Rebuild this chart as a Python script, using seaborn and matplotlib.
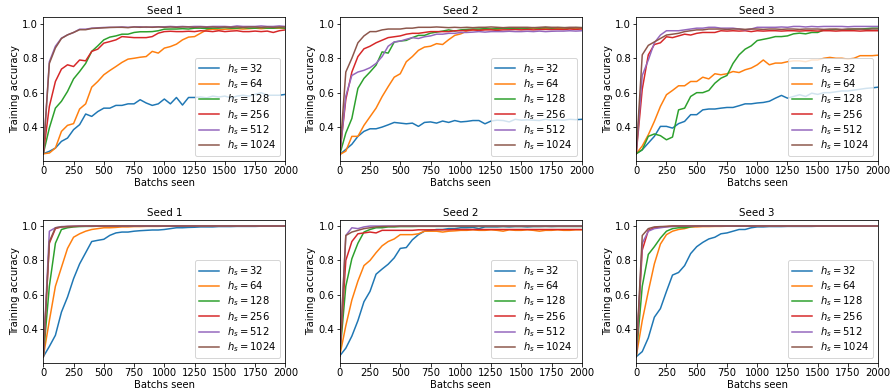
import matplotlib
matplotlib.use("Agg")
import matplotlib.pyplot as plt
import pandas as pd
import seaborn as sns

batches = [0, 50, 100, 150, 200, 250, 300, 350, 400, 450,
           500, 550, 600, 650, 700, 750, 800, 850, 900, 950,
           1000, 1050, 1100, 1150, 1200, 1250, 1300, 1350, 1400, 1450,
           1500, 1550, 1600, 1650, 1700, 1750, 1800, 1850, 1900, 1950,
           2000]

hidden_sizes = [32, 64, 128, 256, 512, 1024]
seed_titles = ["Seed 1", "Seed 2", "Seed 3"]
xlabel = "Batchs seen"
ylabel = "Training accuracy"

# ---------------- Top row ----------------
t1_32 = [0.245, 0.259, 0.278, 0.317, 0.336, 0.385, 0.414, 0.476, 0.462, 0.49,
         0.51, 0.51, 0.526, 0.526, 0.535, 0.535, 0.559, 0.54, 0.526, 0.535,
         0.563, 0.535, 0.572, 0.528, 0.572, 0.572, 0.575, 0.57, 0.58, 0.575,
         0.58, 0.57, 0.58, 0.585, 0.58, 0.59, 0.60, 0.585, 0.585, 0.585,
         0.59]
t1_64 = [0.245, 0.249, 0.278, 0.375, 0.41, 0.42, 0.505, 0.535, 0.632, 0.665,
         0.704, 0.729, 0.752, 0.776, 0.795, 0.80, 0.806, 0.81, 0.84, 0.83,
         0.859, 0.868, 0.882, 0.907, 0.923, 0.926, 0.946, 0.965, 0.969, 0.965,
         0.969, 0.97, 0.972, 0.97, 0.972, 0.975, 0.972, 0.975, 0.975, 0.975,
         0.975]
t1_128 = [0.245, 0.395, 0.51, 0.55, 0.607, 0.68, 0.723, 0.77, 0.84, 0.872,
          0.907, 0.923, 0.93, 0.94, 0.94, 0.95, 0.954, 0.954, 0.955, 0.96,
          0.969, 0.97, 0.97, 0.972, 0.97, 0.975, 0.975, 0.972, 0.975, 0.975,
          0.978, 0.975, 0.975, 0.978, 0.975, 0.975, 0.978, 0.975, 0.975, 0.978,
          0.975]
t1_256 = [0.245, 0.52, 0.665, 0.737, 0.762, 0.752, 0.79, 0.785, 0.84, 0.853,
          0.888, 0.897, 0.907, 0.926, 0.923, 0.92, 0.92, 0.92, 0.926, 0.946,
          0.955, 0.957, 0.955, 0.955, 0.957, 0.955, 0.96, 0.958, 0.955, 0.96,
          0.955, 0.958, 0.96, 0.955, 0.955, 0.958, 0.955, 0.958, 0.95, 0.96,
          0.965]
t1_512 = [0.245, 0.78, 0.87, 0.917, 0.936, 0.95, 0.969, 0.969, 0.975, 0.977,
          0.979, 0.98, 0.98, 0.982, 0.98, 0.982, 0.983, 0.98, 0.982, 0.983,
          0.983, 0.985, 0.983, 0.985, 0.983, 0.985, 0.985, 0.983, 0.985, 0.985,
          0.985, 0.983, 0.988, 0.985, 0.985, 0.985, 0.988, 0.985, 0.985, 0.988,
          0.985]
t1_1024 = [0.245, 0.77, 0.86, 0.915, 0.936, 0.95, 0.966, 0.966, 0.973, 0.975,
           0.977, 0.979, 0.98, 0.98, 0.978, 0.982, 0.98, 0.982, 0.98, 0.982,
           0.98, 0.982, 0.98, 0.982, 0.982, 0.98, 0.982, 0.98, 0.982, 0.98,
           0.982, 0.98, 0.982, 0.98, 0.982, 0.982, 0.98, 0.982, 0.98, 0.982,
           0.982]

t2_32 = [0.24, 0.27, 0.30, 0.346, 0.375, 0.39, 0.39, 0.40, 0.413, 0.427,
         0.423, 0.419, 0.423, 0.404, 0.427, 0.43, 0.423, 0.435, 0.427, 0.438,
         0.43, 0.433, 0.438, 0.438, 0.419, 0.435, 0.44, 0.438, 0.43, 0.445,
         0.44, 0.442, 0.44, 0.438, 0.445, 0.44, 0.442, 0.44, 0.445, 0.443,
         0.445]
t2_64 = [0.24, 0.26, 0.346, 0.346, 0.41, 0.46, 0.51, 0.577, 0.635, 0.69,
         0.71, 0.78, 0.81, 0.846, 0.865, 0.87, 0.885, 0.88, 0.908, 0.933,
         0.942, 0.958, 0.965, 0.965, 0.968, 0.97, 0.968, 0.972, 0.97, 0.972,
         0.97, 0.972, 0.975, 0.972, 0.975, 0.975, 0.972, 0.975, 0.975, 0.975,
         0.975]
t2_128 = [0.24, 0.365, 0.45, 0.625, 0.683, 0.72, 0.76, 0.837, 0.83, 0.894,
          0.90, 0.904, 0.92, 0.933, 0.933, 0.946, 0.952, 0.958, 0.965, 0.958,
          0.965, 0.968, 0.97, 0.97, 0.972, 0.97, 0.972, 0.975, 0.972, 0.975,
          0.975, 0.975, 0.978, 0.975, 0.978, 0.975, 0.978, 0.978, 0.975, 0.978,
          0.978]
t2_256 = [0.24, 0.56, 0.72, 0.81, 0.855, 0.87, 0.89, 0.905, 0.92, 0.925,
          0.93, 0.94, 0.945, 0.945, 0.95, 0.955, 0.955, 0.955, 0.955, 0.96,
          0.96, 0.962, 0.965, 0.962, 0.965, 0.965, 0.962, 0.965, 0.965, 0.967,
          0.965, 0.967, 0.965, 0.967, 0.968, 0.967, 0.968, 0.967, 0.97, 0.968,
          0.97]
t2_512 = [0.24, 0.58, 0.70, 0.72, 0.73, 0.745, 0.77, 0.81, 0.87, 0.895,
          0.90, 0.91, 0.92, 0.915, 0.925, 0.93, 0.94, 0.94, 0.945, 0.945,
          0.95, 0.95, 0.952, 0.955, 0.952, 0.955, 0.955, 0.955, 0.957, 0.955,
          0.955, 0.957, 0.955, 0.958, 0.955, 0.957, 0.958, 0.958, 0.96, 0.958,
          0.96]
t2_1024 = [0.24, 0.72, 0.80, 0.89, 0.93, 0.955, 0.955, 0.965, 0.97, 0.97,
           0.97, 0.975, 0.975, 0.98, 0.98, 0.98, 0.982, 0.98, 0.978, 0.98,
           0.978, 0.98, 0.978, 0.98, 0.98, 0.982, 0.98, 0.978, 0.98, 0.98,
           0.98, 0.98, 0.978, 0.98, 0.982, 0.98, 0.98, 0.978, 0.98, 0.98,
           0.978]

t3_32 = [0.245, 0.268, 0.307, 0.346, 0.404, 0.404, 0.394, 0.42, 0.433, 0.472,
         0.472, 0.50, 0.505, 0.505, 0.51, 0.514, 0.514, 0.524, 0.535, 0.535,
         0.54, 0.543, 0.55, 0.568, 0.584, 0.568, 0.578, 0.588, 0.578, 0.597,
         0.59, 0.60, 0.60, 0.605, 0.61, 0.61, 0.615, 0.62, 0.625, 0.628,
         0.632]
t3_64 = [0.245, 0.29, 0.355, 0.433, 0.52, 0.588, 0.613, 0.64, 0.64, 0.665,
         0.665, 0.69, 0.68, 0.71, 0.704, 0.71, 0.723, 0.717, 0.733, 0.743,
         0.762, 0.79, 0.762, 0.772, 0.772, 0.78, 0.785, 0.785, 0.78, 0.79,
         0.79, 0.80, 0.805, 0.80, 0.80, 0.795, 0.80, 0.815, 0.815, 0.815,
         0.818]
t3_128 = [0.245, 0.268, 0.346, 0.36, 0.35, 0.326, 0.342, 0.50, 0.51, 0.578,
          0.60, 0.60, 0.613, 0.655, 0.684, 0.70, 0.77, 0.82, 0.853, 0.872,
          0.903, 0.91, 0.917, 0.926, 0.926, 0.93, 0.942, 0.946, 0.942, 0.95,
          0.95, 0.965, 0.965, 0.967, 0.965, 0.968, 0.97, 0.97, 0.972, 0.975,
          0.975]
t3_256 = [0.245, 0.62, 0.82, 0.88, 0.89, 0.925, 0.92, 0.93, 0.94, 0.935,
          0.945, 0.95, 0.95, 0.95, 0.96, 0.958, 0.96, 0.958, 0.96, 0.955,
          0.96, 0.958, 0.96, 0.96, 0.958, 0.96, 0.96, 0.958, 0.96, 0.96,
          0.958, 0.96, 0.96, 0.958, 0.96, 0.96, 0.96, 0.958, 0.96, 0.96,
          0.96]
t3_512 = [0.245, 0.70, 0.79, 0.89, 0.935, 0.96, 0.96, 0.96, 0.965, 0.97,
          0.975, 0.975, 0.98, 0.98, 0.975, 0.975, 0.975, 0.97, 0.965, 0.97,
          0.98, 0.98, 0.98, 0.98, 0.982, 0.98, 0.985, 0.985, 0.982, 0.985,
          0.983, 0.985, 0.985, 0.985, 0.985, 0.983, 0.985, 0.985, 0.985, 0.985,
          0.985]
t3_1024 = [0.245, 0.82, 0.875, 0.895, 0.915, 0.935, 0.94, 0.945, 0.955, 0.96,
           0.965, 0.965, 0.97, 0.97, 0.97, 0.968, 0.97, 0.97, 0.968, 0.97,
           0.97, 0.968, 0.97, 0.97, 0.968, 0.97, 0.97, 0.968, 0.97, 0.97,
           0.97, 0.968, 0.97, 0.97, 0.968, 0.97, 0.97, 0.97, 0.968, 0.97,
           0.97]

# ---------------- Bottom row ----------------
b1_32 = [0.24, 0.30, 0.365, 0.50, 0.587, 0.694, 0.78, 0.845, 0.91, 0.917,
         0.923, 0.946, 0.96, 0.965, 0.965, 0.97, 0.973, 0.975, 0.977, 0.977,
         0.98, 0.985, 0.99, 0.99, 0.992, 0.993, 0.995, 0.995, 0.995, 0.997,
         0.997, 0.997, 0.998, 0.998, 0.998, 0.998, 0.999, 0.999, 1.0, 1.0,
         1.0]
b1_64 = [0.24, 0.45, 0.65, 0.76, 0.87, 0.935, 0.955, 0.97, 0.98, 0.985,
         0.99, 0.99, 0.992, 0.995, 0.995, 0.997, 0.997, 0.998, 0.998, 0.998,
         0.999, 0.999, 0.999, 1.0, 1.0, 1.0, 1.0, 1.0, 1.0, 1.0,
         1.0, 1.0, 1.0, 1.0, 1.0, 1.0, 1.0, 1.0, 1.0, 1.0,
         1.0]
b1_128 = [0.24, 0.65, 0.90, 0.98, 0.99, 0.995, 0.997, 0.998, 0.998, 0.999,
          0.999, 1.0, 1.0, 1.0, 1.0, 1.0, 1.0, 1.0, 1.0, 1.0,
          1.0, 1.0, 1.0, 1.0, 1.0, 1.0, 1.0, 1.0, 1.0, 1.0,
          1.0, 1.0, 1.0, 1.0, 1.0, 1.0, 1.0, 1.0, 1.0, 1.0,
          1.0]
b1_256 = [0.24, 0.90, 0.985, 0.995, 0.997, 0.998, 0.999, 0.999, 1.0, 1.0,
          1.0, 1.0, 1.0, 1.0, 1.0, 1.0, 1.0, 1.0, 1.0, 1.0,
          1.0, 1.0, 1.0, 1.0, 1.0, 1.0, 1.0, 1.0, 1.0, 1.0,
          1.0, 1.0, 1.0, 1.0, 1.0, 1.0, 1.0, 1.0, 1.0, 1.0,
          1.0]
b1_512 = [0.24, 0.97, 0.99, 0.997, 0.998, 0.999, 1.0, 1.0, 1.0, 1.0,
          1.0, 1.0, 1.0, 1.0, 1.0, 1.0, 1.0, 1.0, 1.0, 1.0,
          1.0, 1.0, 1.0, 1.0, 1.0, 1.0, 1.0, 1.0, 1.0, 1.0,
          1.0, 1.0, 1.0, 1.0, 1.0, 1.0, 1.0, 1.0, 1.0, 1.0,
          1.0]
b1_1024 = [0.24, 0.91, 0.99, 0.995, 0.997, 0.998, 0.999, 1.0, 1.0, 1.0,
           1.0, 1.0, 1.0, 1.0, 1.0, 1.0, 1.0, 1.0, 1.0, 1.0,
           1.0, 1.0, 1.0, 1.0, 1.0, 1.0, 1.0, 1.0, 1.0, 1.0,
           1.0, 1.0, 1.0, 1.0, 1.0, 1.0, 1.0, 1.0, 1.0, 1.0,
           1.0]

b2_32 = [0.245, 0.29, 0.36, 0.45, 0.56, 0.62, 0.72, 0.75, 0.778, 0.815,
         0.87, 0.875, 0.92, 0.95, 0.97, 0.975, 0.98, 0.98, 0.985, 0.985,
         0.99, 0.99, 0.992, 0.985, 0.995, 0.995, 0.995, 0.997, 0.995, 0.997,
         0.997, 0.995, 0.997, 0.997, 0.998, 0.997, 0.998, 0.998, 0.998, 0.998,
         0.998]
b2_64 = [0.245, 0.42, 0.57, 0.68, 0.77, 0.80, 0.845, 0.885, 0.91, 0.925,
         0.95, 0.95, 0.95, 0.955, 0.97, 0.97, 0.97, 0.965, 0.97, 0.972,
         0.975, 0.975, 0.978, 0.975, 0.975, 0.978, 0.975, 0.97, 0.978, 0.975,
         0.975, 0.978, 0.975, 0.97, 0.975, 0.975, 0.978, 0.975, 0.975, 0.978,
         0.978]
b2_128 = [0.245, 0.65, 0.81, 0.90, 0.965, 0.98, 0.99, 0.99, 0.995, 0.995,
          0.997, 0.997, 0.997, 0.998, 0.998, 0.998, 0.998, 0.998, 0.998, 0.998,
          0.998, 0.998, 0.998, 0.998, 0.998, 0.998, 0.998, 0.998, 0.998, 0.998,
          0.998, 0.998, 0.998, 0.998, 0.998, 0.998, 0.998, 0.998, 0.998, 0.998,
          0.998]
b2_256 = [0.245, 0.80, 0.91, 0.955, 0.96, 0.965, 0.96, 0.975, 0.975, 0.975,
          0.975, 0.975, 0.975, 0.978, 0.978, 0.978, 0.978, 0.978, 0.978, 0.98,
          0.98, 0.98, 0.98, 0.98, 0.98, 0.98, 0.98, 0.98, 0.98, 0.98,
          0.98, 0.98, 0.98, 0.98, 0.98, 0.98, 0.98, 0.98, 0.98, 0.98,
          0.98]
b2_512 = [0.245, 0.945, 0.99, 0.985, 0.995, 1.0, 1.0, 1.0, 1.0, 1.0,
          1.0, 1.0, 1.0, 1.0, 1.0, 1.0, 1.0, 1.0, 1.0, 1.0,
          1.0, 1.0, 1.0, 1.0, 1.0, 1.0, 1.0, 1.0, 1.0, 1.0,
          1.0, 1.0, 1.0, 1.0, 1.0, 1.0, 1.0, 1.0, 1.0, 1.0,
          1.0]
b2_1024 = [0.245, 0.945, 0.965, 0.975, 0.985, 0.99, 0.995, 0.997, 0.998, 0.998,
           1.0, 1.0, 1.0, 1.0, 1.0, 1.0, 1.0, 1.0, 1.0, 1.0,
           1.0, 1.0, 1.0, 1.0, 1.0, 1.0, 1.0, 1.0, 1.0, 1.0,
           1.0, 1.0, 1.0, 1.0, 1.0, 1.0, 1.0, 1.0, 1.0, 1.0,
           1.0]

b3_32 = [0.24, 0.27, 0.35, 0.47, 0.52, 0.62, 0.715, 0.73, 0.77, 0.84,
         0.88, 0.905, 0.925, 0.935, 0.955, 0.96, 0.97, 0.98, 0.98, 0.99,
         0.995, 0.995, 0.997, 0.997, 0.997, 0.998, 0.998, 0.998, 0.998, 0.998,
         0.999, 0.999, 0.999, 0.999, 0.999, 0.999, 0.999, 0.999, 0.999, 0.999,
         0.999]
b3_64 = [0.24, 0.45, 0.62, 0.78, 0.895, 0.95, 0.97, 0.98, 0.985, 0.995,
         0.995, 0.997, 0.997, 0.998, 0.998, 0.999, 0.999, 1.0, 1.0, 1.0,
         1.0, 1.0, 1.0, 1.0, 1.0, 1.0, 1.0, 1.0, 1.0, 1.0,
         1.0, 1.0, 1.0, 1.0, 1.0, 1.0, 1.0, 1.0, 1.0, 1.0,
         1.0]
b3_128 = [0.24, 0.65, 0.835, 0.88, 0.93, 0.97, 0.985, 0.99, 0.99, 0.995,
          1.0, 1.0, 1.0, 1.0, 1.0, 1.0, 1.0, 1.0, 1.0, 1.0,
          1.0, 1.0, 1.0, 1.0, 1.0, 1.0, 1.0, 1.0, 1.0, 1.0,
          1.0, 1.0, 1.0, 1.0, 1.0, 1.0, 1.0, 1.0, 1.0, 1.0,
          1.0]
b3_256 = [0.24, 0.86, 0.975, 0.99, 0.995, 0.997, 1.0, 1.0, 1.0, 1.0,
          1.0, 1.0, 1.0, 1.0, 1.0, 1.0, 1.0, 1.0, 1.0, 1.0,
          1.0, 1.0, 1.0, 1.0, 1.0, 1.0, 1.0, 1.0, 1.0, 1.0,
          1.0, 1.0, 1.0, 1.0, 1.0, 1.0, 1.0, 1.0, 1.0, 1.0,
          1.0]
b3_512 = [0.24, 0.90, 0.97, 0.985, 0.99, 0.995, 0.997, 1.0, 1.0, 1.0,
          1.0, 1.0, 1.0, 1.0, 1.0, 1.0, 1.0, 1.0, 1.0, 1.0,
          1.0, 1.0, 1.0, 1.0, 1.0, 1.0, 1.0, 1.0, 1.0, 1.0,
          1.0, 1.0, 1.0, 1.0, 1.0, 1.0, 1.0, 1.0, 1.0, 1.0,
          1.0]
b3_1024 = [0.24, 0.945, 0.985, 0.995, 0.997, 0.998, 1.0, 1.0, 1.0, 1.0,
           1.0, 1.0, 1.0, 1.0, 1.0, 1.0, 1.0, 1.0, 1.0, 1.0,
           1.0, 1.0, 1.0, 1.0, 1.0, 1.0, 1.0, 1.0, 1.0, 1.0,
           1.0, 1.0, 1.0, 1.0, 1.0, 1.0, 1.0, 1.0, 1.0, 1.0,
           1.0]

panels = [
    [[t1_32, t1_64, t1_128, t1_256, t1_512, t1_1024],
     [t2_32, t2_64, t2_128, t2_256, t2_512, t2_1024],
     [t3_32, t3_64, t3_128, t3_256, t3_512, t3_1024]],
    [[b1_32, b1_64, b1_128, b1_256, b1_512, b1_1024],
     [b2_32, b2_64, b2_128, b2_256, b2_512, b2_1024],
     [b3_32, b3_64, b3_128, b3_256, b3_512, b3_1024]],
]

labels = [rf"$h_s = {h}$" for h in hidden_sizes]
palette = sns.color_palette("tab10", 6)

plt.rcParams["xtick.major.pad"] = 1.5
plt.rcParams["ytick.major.pad"] = 2.0
plt.rcParams["axes.labelpad"] = 2.0

fig, axes = plt.subplots(2, 3, figsize=(891 / 72, 392 / 72), dpi=72)
fig.subplots_adjust(left=0.0486, right=0.9857, top=0.9558, bottom=0.0732,
                    wspace=0.2247, hspace=0.406)

for r in range(2):
    for c in range(3):
        ax = axes[r][c]
        rows = []
        for lab, series in zip(labels, panels[r][c]):
            for b, v in zip(batches, series):
                rows.append({"batch": b, "acc": v, "label": lab})
        df = pd.DataFrame(rows)
        sns.lineplot(data=df, x="batch", y="acc", hue="label", hue_order=labels,
                     palette=palette, errorbar=None, legend=False, ax=ax,
                     linewidth=1.5)
        ax.set_xlim(0, 2000)
        ax.set_ylim(0.202, 1.038)
        ax.set_title(seed_titles[c], fontsize=10.3, pad=3.5)
        ax.set_xlabel(xlabel)
        ax.set_ylabel(ylabel)
        ax.legend(ax.lines, labels, loc="lower right", labelspacing=0.15)

fig.savefig("out.png", dpi=72)
